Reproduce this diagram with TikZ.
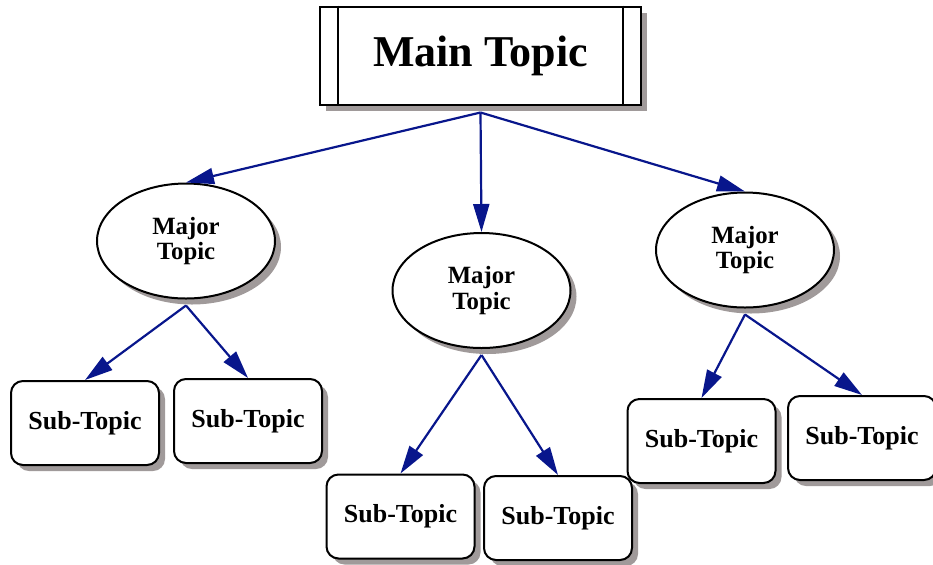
\documentclass[tikz,border=0pt]{standalone}
\usepackage{fontspec}
\setmainfont{Liberation Serif}
\usetikzlibrary{arrows.meta,shapes,shadows}
\definecolor{linkblue}{RGB}{8,22,140}
\definecolor{shadowgray}{RGB}{160,154,154}

\begin{document}
\begin{tikzpicture}
                [
                x=0.5pt,y=-0.5pt,
                shadowed/.style={drop shadow={shadow xshift=3pt,shadow yshift=-3pt,fill=shadowgray,opacity=1}},
                mainbox/.style={rectangle,draw,line width=1pt,fill=white,shadowed,minimum width=160.5pt,minimum height=49pt,font=\bfseries\fontsize{22}{26}\selectfont},
                majorbox/.style={ellipse,draw,line width=1pt,fill=white,shadowed,minimum width=89pt,minimum height=57.5pt,inner sep=0pt,align=center,font=\bfseries\fontsize{12.4}{12.8}\selectfont},
                subbox/.style={rectangle,rounded corners=6pt,draw,line width=1pt,fill=white,shadowed,minimum width=74pt,minimum height=42pt,font=\bfseries\fontsize{13}{15}\selectfont},
                edge/.style={-{Triangle[length=14pt,width=8pt]},draw=linkblue,fill=linkblue,line width=1.1pt}
                ]
            \useasboundingbox (0,0) rectangle (933,564);
            \node[mainbox] (main) at (480.5,55.5) {Main Topic};
            \draw[line width=1pt] ([xshift=9.5pt]main.north west) -- ([xshift=9.5pt]main.south west);
            \draw[line width=1pt] ([xshift=-9.5pt]main.north east) -- ([xshift=-9.5pt]main.south east);
            \node[majorbox] (maj1) at (186,241) {Major\\Topic};
            \node[majorbox] (maj2) at (481.5,290.5) {Major\\Topic};
            \node[majorbox] (maj3) at (745,250) {Major\\Topic};
            \node[subbox] (sub1) at (85,423) {Sub-Topic};
            \node[subbox] (sub2) at (248,421) {Sub-Topic};
            \node[subbox] (sub3) at (400.5,516.5) {Sub-Topic};
            \node[subbox] (sub4) at (558,518) {Sub-Topic};
            \node[subbox] (sub5) at (701.5,441) {Sub-Topic};
            \node[subbox] (sub6) at (862,438) {Sub-Topic};
            \coordinate (m0) at ([yshift=-3.5pt]main.south);
            \coordinate (m1) at ([yshift=-3pt]maj1.south);
            \coordinate (m2) at ([yshift=-3pt]maj2.south);
            \coordinate (m3) at ([yshift=-3pt]maj3.south);
            \draw[edge] (m0) -- (maj1.north);
            \draw[edge] (m0) -- (maj2.north);
            \draw[edge] (m0) -- (maj3.north);
            \draw[edge] (m1) -- (sub1.north);
            \draw[edge] (m1) -- (sub2.north);
            \draw[edge] (m2) -- (sub3.north);
            \draw[edge] (m2) -- (sub4.north);
            \draw[edge] (m3) -- (sub5.north);
            \draw[edge] (m3) -- (sub6.north);
            \end{tikzpicture}
\end{document}
